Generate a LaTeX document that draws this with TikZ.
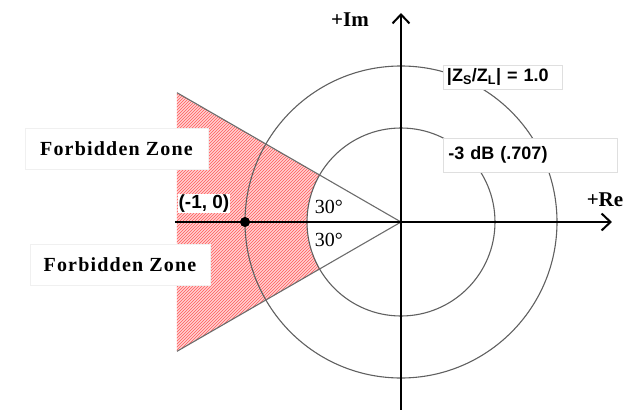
\documentclass[tikz,border=0pt]{standalone}
\usepackage{fontspec}
\setmainfont{Liberation Serif}
\setsansfont{Liberation Sans}
\newfontfamily\zonefont[LetterSpace=6]{Liberation Serif}
\usetikzlibrary{arrows.meta,patterns}

\begin{document}
\begin{tikzpicture}[x=1pt,y=1pt,
    axis/.style={line width=2pt,-{Straight Barb[length=9pt,width=17pt,line width=2pt]}},
    ring/.style={gray!75!black,line width=1.1pt},
    edge/.style={gray!85!black,line width=1.1pt},
    tag/.style={draw=gray!25,fill=white,inner xsep=4pt,align=left,
        font=\sffamily\bfseries\fontsize{18}{20}\selectfont},
    zone/.style={draw=gray!12,fill=white,minimum height=41pt,
        font=\zonefont\bfseries\fontsize{20}{24}\selectfont},
    axlabel/.style={font=\bfseries\fontsize{21}{24}\selectfont},
    angle/.style={fill=white,inner sep=1pt,font=\fontsize{20}{22}\selectfont}]
    \useasboundingbox (-401,-188) rectangle (229,222);

    % Origin and wedge corners
    \coordinate (O) at (0,0);
    \coordinate (wt) at (-224,129.3);
    \coordinate (wb) at (-224,-129.3);

    % Forbidden zone (hatched)
    \fill[red!18,postaction={pattern=north east lines,pattern color=red!65}]
        (wt) -- (wb) -- (210:94) arc[start angle=210,end angle=150,radius=94] -- cycle;

    % Circles
    \draw[ring] (O) circle[radius=156];
    \draw[ring] (O) circle[radius=94];

    % Wedge edges (+-30 deg)
    \draw[edge] (wt) -- (O);
    \draw[edge] (wb) -- (O);

    % Axes
    \coordinate (xl) at (-226,0);
    \coordinate (xr) at (211,0);
    \coordinate (yb) at (0,-188);
    \coordinate (yt) at (0,209);
    \draw[axis] (xl) -- (xr);
    \draw[axis] (yb) -- (yt);
    \node[axlabel] (im) at (-51,202) {+Im};
    \node[axlabel] (re) at (204,22) {+Re};

    % Critical point
    \node[circle,fill=black,inner sep=0pt,minimum size=10pt] (crit) at (-156,0) {};
    \node[fill=white,inner sep=1pt,font=\sffamily\bfseries\fontsize{19}{21}\selectfont] (critlbl) at (-197,18.5) {(-1, 0)};

    % Angle labels
    \node[angle] (atop) at (-72,15.5) {30°};
    \node[angle] (abot) at (-72,-18) {30°};

    % Ring labels
    \node[tag,minimum width=119pt,minimum height=24pt,text width=111pt] (unity) at (101.5,145) {|Z\textsubscript{S}/Z\textsubscript{L}| = 1.0};
    \node[tag,minimum width=174pt,minimum height=34pt,text width=163pt,inner xsep=5.5pt] (minus3) at (129,67) {-3 dB (.707)};

    % Zone labels
    \node[zone,minimum width=183pt] (ztop) at (-284.5,73) {Forbidden Zone};
    \node[zone,minimum width=180pt] (zbot) at (-281,-43) {Forbidden Zone};
\end{tikzpicture}
\end{document}
